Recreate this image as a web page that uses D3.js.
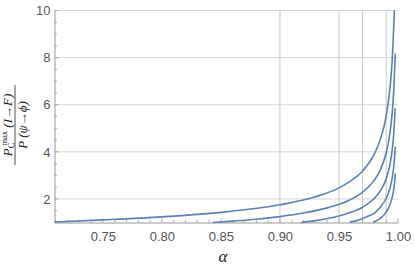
<!DOCTYPE html>
<html><head><meta charset="utf-8">
<script src="https://cdn.jsdelivr.net/npm/d3@7"></script>
<style>body{margin:0;background:#fff}svg{display:block}</style>
</head><body>
<svg id="c" width="415" height="266"></svg>
<script>
// Curve data: alpha values and ratio values
const alpha1 = [0.709,0.75,0.80,0.85,0.90,0.93,0.95,0.96,0.97,0.98,0.985,0.99,0.993,0.995,0.99694];
const ratio1 = [1.02,1.11,1.24,1.43,1.75,2.09,2.47,2.77,3.19,3.91,4.52,5.53,6.61,7.82,10.0];
const alpha2 = [0.843,0.86,0.88,0.90,0.92,0.94,0.95,0.96,0.97,0.98,0.985,0.99,0.993,0.995,0.9965,0.99765];
const ratio2 = [1.0,1.06,1.14,1.25,1.40,1.62,1.77,1.98,2.29,2.80,3.24,3.96,4.74,5.60,6.70,8.17];
const alpha3 = [0.918,0.93,0.94,0.95,0.96,0.97,0.98,0.985,0.99,0.993,0.995,0.9965,0.9976];
const ratio3 = [1.0,1.08,1.17,1.28,1.43,1.65,2.03,2.34,2.86,3.42,4.05,4.84,5.85];
const alpha4 = [0.959,0.965,0.97,0.975,0.98,0.985,0.99,0.993,0.995,0.9965,0.9977];
const ratio4 = [1.0,1.08,1.17,1.28,1.40,1.65,2.03,2.42,2.86,3.42,4.22];
const alpha5 = [0.979,0.982,0.985,0.988,0.99,0.992,0.994,0.995,0.996,0.997,0.9978];
const ratio5 = [1.0,1.08,1.18,1.32,1.45,1.62,1.87,2.05,2.29,2.65,3.09];
const series = [[alpha1,ratio1],[alpha2,ratio2],[alpha3,ratio3],[alpha4,ratio4],[alpha5,ratio5]];

const xTicks = [0.75,0.80,0.85,0.90,0.95,1.00];
const yTicks = [2,4,6,8,10];
const xGrid = [0.90,0.95,0.97,0.99];
const yGrid = [2,4,6,8,10];

const svg = d3.select("#c");
const x = d3.scaleLinear().domain([0.709,1.0]).range([54.5,398]);
const y = d3.scaleLinear().domain([1,10]).range([222.5,10.5]);
const gray = "#999";

// gridlines
svg.append("g").selectAll("line").data(yGrid).join("line")
  .attr("x1",x(0.709)).attr("x2",x(1.0)).attr("y1",d=>y(d)).attr("y2",d=>y(d))
  .attr("stroke","#d6d6d6").attr("stroke-width",1);
svg.append("g").selectAll("line").data(xGrid).join("line")
  .attr("x1",d=>x(d)).attr("x2",d=>x(d)).attr("y1",y(1)).attr("y2",y(10))
  .attr("stroke","#c8c8c8").attr("stroke-width",1);

// x axis
const xAxis = d3.axisBottom(x).tickValues(xTicks).tickFormat(d3.format(".2f")).tickSize(0).tickPadding(9);
const gx = svg.append("g").attr("transform",`translate(0,${y(1)})`).call(xAxis);
gx.select(".domain").attr("stroke",gray);
gx.selectAll("text").attr("fill","#555").attr("font-size","13px").attr("font-family","Liberation Sans, Arial, sans-serif");
const xMinor = d3.range(71,101).map(v=>v/100);
svg.append("g").selectAll("line").data(xMinor).join("line")
  .attr("x1",d=>x(d)).attr("x2",d=>x(d)).attr("y1",y(1))
  .attr("y2",d=>y(1)-(Math.abs(d*20-Math.round(d*20))<1e-6?4:2.5))
  .attr("stroke",gray).attr("stroke-width",0.8);

// y axis
const yAxis = d3.axisLeft(y).tickValues(yTicks).tickSize(0).tickPadding(4);
const gy = svg.append("g").attr("transform",`translate(${x(0.709)},0)`).call(yAxis);
gy.select(".domain").attr("stroke",gray);
gy.selectAll("text").attr("fill","#555").attr("font-size","13px").attr("font-family","Liberation Sans, Arial, sans-serif");
const yMinor = d3.range(1,10.01,0.5);
svg.append("g").selectAll("line").data(yMinor).join("line")
  .attr("y1",d=>y(d)).attr("y2",d=>y(d)).attr("x1",x(0.709))
  .attr("x2",d=>x(0.709)+(d%2===0?4:2.5))
  .attr("stroke",gray).attr("stroke-width",0.8);

// curves
const line = d3.line().x(d=>x(d[0])).y(d=>y(d[1])).curve(d3.curveMonotoneX);
svg.append("g").selectAll("path").data(series).join("path")
  .attr("d",s=>line(s[0].map((a,i)=>[a,s[1][i]])))
  .attr("fill","none").attr("stroke","#5E81B5").attr("stroke-width",1.6);

// x label
svg.append("text").attr("x",223).attr("y",262).attr("text-anchor","middle")
  .attr("font-family","Liberation Serif, Times New Roman, serif").attr("font-style","italic")
  .attr("font-size","17px").attr("fill","#222").text("α");

// y label (fraction)
const yl = svg.append("g").attr("transform","translate(15,125) rotate(-90)")
  .attr("font-family","Liberation Serif, Times New Roman, serif").attr("font-style","italic").attr("fill","#222");
const num = yl.append("text").attr("text-anchor","middle").attr("y",-3.5).attr("font-size","13px");
num.append("tspan").text("P");
num.append("tspan").attr("font-size","8.5px").attr("dy",2).attr("font-style","normal").text("C");
num.append("tspan").attr("font-size","8.5px").attr("dy",-7).attr("dx",-3).attr("font-style","normal").text("max");
num.append("tspan").attr("dy",5).text(" (I→F)");
yl.append("line").attr("x1",-40).attr("x2",40).attr("y1",0).attr("y2",0).attr("stroke","#222").attr("stroke-width",0.8);
yl.append("text").attr("text-anchor","middle").attr("y",11.5).attr("font-size","13px").text("P (ψ→ϕ)");
</script>
</body></html>
